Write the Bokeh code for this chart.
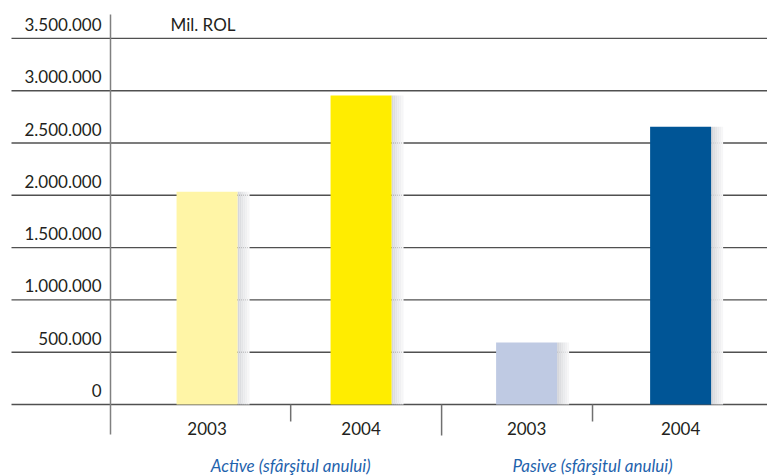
from bokeh.plotting import figure
from bokeh.models import Range1d
from bokeh.core.properties import value
from bokeh.embed import file_html
from bokeh.resources import INLINE

# ---- data ----
groups = ["Active (sfârşitul anului)", "Pasive (sfârşitul anului)"]
years = ["2003", "2004"]
active = [2035000, 2955000]
pasive = [593000, 2655000]
y_ticks = [0, 500000, 1000000, 1500000, 2000000, 2500000, 3000000, 3500000]
y_tick_labels = ["0", "500.000", "1.000.000", "1.500.000", "2.000.000",
                 "2.500.000", "3.000.000", "3.500.000"]
unit_label = "Mil. ROL"
bar_colors = ["#FFF5A6", "#FFED00", "#BFCAE3", "#005596"]

# ---- layout (pixels of the 767x475 canvas) ----
W, H = 767, 475
X0 = 110          # x of vertical axis line
Y0 = 404          # y of zero line
PX_PER_VAL = 52.3 / 500000
PX_PER_U = 154.0


def vx(px):
    return (px - X0) / PX_PER_U


def vy(py):
    return (Y0 - py) / PX_PER_VAL


def dx(px):
    return px / PX_PER_U


def dy(px):
    return px / PX_PER_VAL


FONT = value("Lato")
FS = "17px"

p = figure(width=W, height=H, x_range=Range1d(vx(0), vx(W)),
           y_range=Range1d(vy(H), vy(0)), x_axis_type=None, y_axis_type=None,
           toolbar_location=None, output_backend="svg", min_border=0,
           outline_line_color=None, background_fill_color="white",
           border_fill_color="white")

# gridlines (extend under the labels)
p.segment(x0=[vx(11)] * len(y_ticks), x1=[vx(W)] * len(y_ticks),
          y0=y_ticks, y1=y_ticks, line_color="#505050", line_width=1.4)

# vertical axis line and category separators
group_starts = [0.0, 2.075]
bar_offsets = [0.627, 1.627]
seps = [1.17, 2.15, 3.13]
sep_len = [17, 31, 17]
p.segment(x0=[0.0], x1=[0.0], y0=[vy(434)], y1=[vy(14)],
          line_color="#808080", line_width=1.5)
p.segment(x0=seps, x1=seps, y0=[0] * 3, y1=[vy(Y0 + l) for l in sep_len],
          line_color="#707070", line_width=1.5)

values = active + pasive
centers = [g + o for g in group_starts for o in bar_offsets]
bw = dx(61)

# shadows to the right of each bar
shades = ["#d6d7db", "#dddee1", "#e4e5e7", "#eaebed", "#f0f0f2", "#f6f6f7"]
step = dx(2)
for k, c in enumerate(shades):
    p.quad(left=[x + bw / 2 + k * step for x in centers],
           right=[x + bw / 2 + (k + 1) * step for x in centers],
           top=values, bottom=[0] * 4, fill_color=c, line_color=None)

p.vbar(x=centers, top=values, bottom=0, width=bw, fill_color=bar_colors,
       line_color=None)

# y tick labels (sit above their gridline)
p.text(x=[vx(101)] * len(y_ticks), y=[t + dy(14) for t in y_ticks],
       text=y_tick_labels, text_align="right", text_baseline="middle",
       text_font=FONT, text_font_size=FS, text_color="#231f20")

p.text(x=[vx(170)], y=[vy(24)], text=[unit_label], text_align="left",
       text_baseline="middle", text_font=FONT, text_font_size=FS,
       text_color="#231f20")

# year labels
p.text(x=centers, y=[vy(427.5)] * 4, text=years * 2, text_align="center",
       text_baseline="middle", text_font=FONT, text_font_size=FS,
       text_color="#231f20")

# group labels
p.text(x=[seps[0], seps[2]], y=[vy(465)] * 2, text=groups, text_align="center",
       text_baseline="middle", text_font=FONT, text_font_size=FS,
       text_font_style="italic", text_color="#1f63ad")

open("out.html", "w").write(file_html(p, INLINE))
